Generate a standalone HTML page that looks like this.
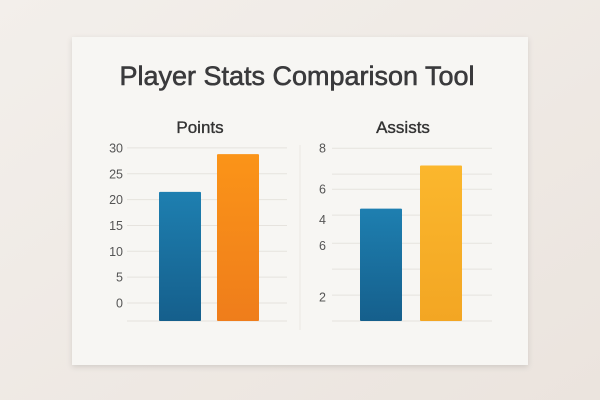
<!DOCTYPE html>
<html><head><meta charset="utf-8"><style>
html,body{margin:0;padding:0;width:600px;height:400px;overflow:hidden;background:#efe9e4;font-family:"Liberation Sans",sans-serif;}
</style></head><body>
<svg width="600" height="400" viewBox="0 0 600 400">
<defs>
<linearGradient id="bgG" x1="0" y1="0" x2="1" y2="1"><stop offset="0" stop-color="#f3efeb"/><stop offset="1" stop-color="#ebe4de"/></linearGradient>
<linearGradient id="blueG" x1="0" y1="0" x2="0" y2="1"><stop offset="0" stop-color="#1e7fb0"/><stop offset="1" stop-color="#155f8c"/></linearGradient>
<linearGradient id="orangeG" x1="0" y1="0" x2="0" y2="1"><stop offset="0" stop-color="#fb9418"/><stop offset="1" stop-color="#ef7d1b"/></linearGradient>
<linearGradient id="yellowG" x1="0" y1="0" x2="0" y2="1"><stop offset="0" stop-color="#fbb72d"/><stop offset="1" stop-color="#f3a623"/></linearGradient>
<filter id="sh" x="-10%" y="-10%" width="120%" height="130%"><feDropShadow dx="0" dy="2" stdDeviation="3" flood-color="#000" flood-opacity="0.12"/></filter>
</defs>
<rect width="600" height="400" fill="url(#bgG)"/>
<rect x="72" y="37" width="456" height="328" fill="#f7f6f3" filter="url(#sh)"/>
<text x="297" y="85" text-anchor="middle" font-size="27" fill="#3a3a3c" stroke="#3a3a3c" stroke-width="0.6" textLength="355" lengthAdjust="spacingAndGlyphs">Player Stats Comparison Tool</text>
<text x="200" y="133" text-anchor="middle" font-size="17" fill="#333" stroke="#333" stroke-width="0.35">Points</text>
<text x="403" y="133" text-anchor="middle" font-size="17" fill="#333" stroke="#333" stroke-width="0.35">Assists</text>
<line x1="300" y1="145" x2="300" y2="330" stroke="#ebe8e3" stroke-width="1"/>
<g id="g1"></g><g id="g2"></g>
</svg>
<script>
const pointsTicks=[0,5,10,15,20,25,30];
const pointsValues=[21.5,28.8];
const assistsTickValues=[8,6.1,4.7,3.5,1.1];
const assistsTickLabels=["8","6","4","6","2"];
const assistsGridValues=[8,6.8,6.1,4.9,3.6,2.4,1.2,0];
const assistsValues=[5.2,7.2];
const NS="http://www.w3.org/2000/svg";
function mk(p,t,a){const e=document.createElementNS(NS,t);for(const k in a)e.setAttribute(k,a[k]);p.appendChild(e);return e;}
const g1=document.getElementById('g1');
const yP=v=>303-v*5.17;
pointsTicks.forEach(t=>{
 const l=mk(g1,'line',{x1:127,x2:287,y1:yP(t),y2:yP(t),stroke:'#e6e3de','stroke-width':1});
 
 
 const tx=mk(g1,'text',{x:123,y:yP(t)+4.5,'text-anchor':'end','font-size':12.5,fill:'#555'});
 tx.textContent=t;
 
 
});
const bl1=mk(g1,'line',{x1:127,x2:287,y1:321,y2:321,stroke:'#e6e3de','stroke-width':1});


const px=[159,217],fills1=['url(#blueG)','url(#orangeG)'],names1=['points-bar-player1','points-bar-player2'];
pointsValues.forEach((v,i)=>{
 const r=mk(g1,'rect',{x:px[i],y:yP(v),width:42,height:321-yP(v),fill:fills1[i],rx:1});
 
 
});
const g2=document.getElementById('g2');
const yA=v=>321-v*21.6;
assistsGridValues.forEach(t=>{
 const l=mk(g2,'line',{x1:332,x2:492,y1:yA(t),y2:yA(t),stroke:'#e6e3de','stroke-width':1});
 
 
});
assistsTickValues.forEach((t,i)=>{
 const tx=mk(g2,'text',{x:326,y:yA(t)+4.5,'text-anchor':'end','font-size':12.5,fill:'#555'});
 tx.textContent=assistsTickLabels[i];
 
 
});
const ax=[360,420],fills2=['url(#blueG)','url(#yellowG)'],names2=['assists-bar-player1','assists-bar-player2'];
assistsValues.forEach((v,i)=>{
 const r=mk(g2,'rect',{x:ax[i],y:yA(v),width:42,height:321-yA(v),fill:fills2[i],rx:1});
 
 
});
</script>
</body></html>
